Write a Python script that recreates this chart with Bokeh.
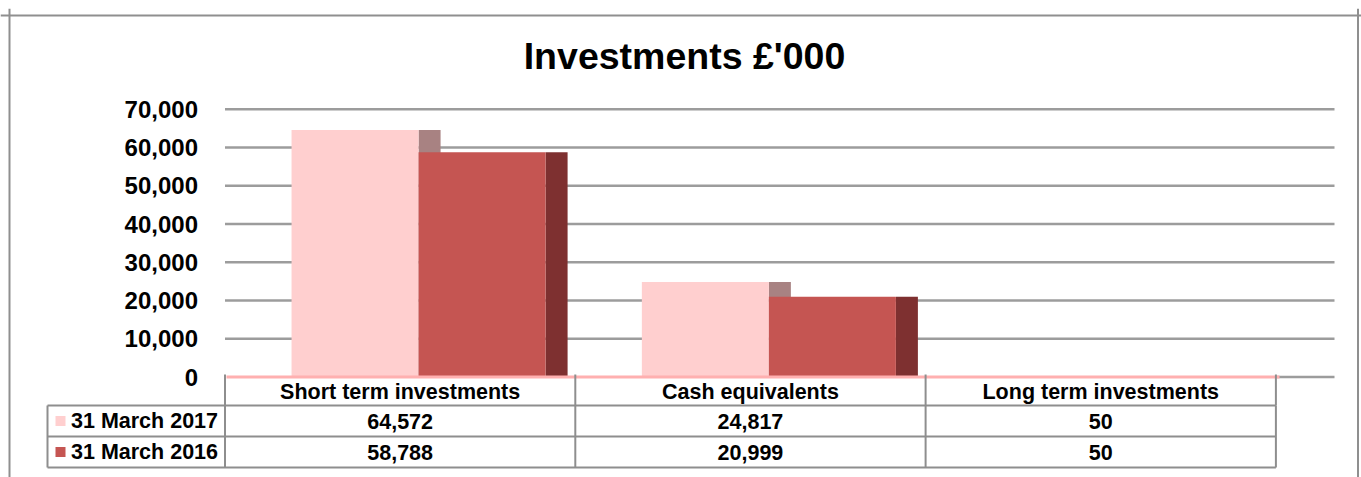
from bokeh.plotting import figure
from bokeh.models import Range1d, LinearAxis, FixedTicker, NumeralTickFormatter, Span
from bokeh.core.properties import value
from bokeh.embed import file_html
from bokeh.resources import INLINE

# ---- data ----
categories = ["Short term investments", "Cash equivalents", "Long term investments"]
series_names = ["31 March 2017", "31 March 2016"]
values_2017 = [64572, 24817, 50]
values_2016 = [58788, 20999, 50]
y_ticks = [0, 10000, 20000, 30000, 40000, 50000, 60000, 70000]
title_text = "Investments £'000"

# ---- styles ----
FONT = value("Liberation Sans")
C17, C17_SIDE = "#FFCFCF", "#A88282"
C16, C16_SIDE = "#C55552", "#7E3030"
GRID_C = "#9c9c9c"
TABLE_C = "#8e8e8e"
FLOOR_C = "#FFB0B0"

# ---- layout (picture pixels -> data coordinates) ----
W, H = 1361, 477
PAGE_X0, PAGE_Y0 = 0, 0
FRAME_TOP = 8
CAT_X0, CAT_W = 224.5, 350.3
ZERO_Y, Y_PER_PX = 376.5, 70000 / 267.7


def xp(px):
    return (px - CAT_X0) / CAT_W


def yp(py):
    return (ZERO_Y - py) * Y_PER_PX


p = figure(width=W, height=H,
           x_range=Range1d(xp(PAGE_X0), xp(PAGE_X0 + W)),
           y_range=Range1d(yp(PAGE_Y0 + H), yp(FRAME_TOP)),
           output_backend="svg", toolbar_location=None,
           x_axis_location=None, y_axis_location=None,
           min_border_left=0, min_border_right=0,
           min_border_top=FRAME_TOP - PAGE_Y0, min_border_bottom=0)
p.grid.visible = False
p.outline_line_color = None
p.background_fill_color = "white"
p.border_fill_color = "white"

# outer chart border
for loc, dim in [(xp(9), "height"), (xp(1357.5), "height"), (yp(15), "width")]:
    p.add_layout(Span(location=loc, dimension=dim, line_color="#8f8f8f", line_width=2))

n = len(categories)
idx = list(range(n))

# gridlines (back wall)
grid_end = xp(1334)
gt = y_ticks[1:]
p.segment(x0=[0] * len(gt), x1=[grid_end] * len(gt), y0=gt, y1=gt,
          line_color=GRID_C, line_width=2.5)

# bars with 3-D side faces
OFF, BW, SIDE = 0.19, 0.3626, 0.0628
x17 = [i + OFF + BW / 2 for i in idx]
x16 = [i + OFF + BW * 1.5 for i in idx]
s17 = [i + OFF + BW + SIDE / 2 for i in idx]
s16 = [i + OFF + 2 * BW + SIDE / 2 for i in idx]
p.vbar(x=s17, top=values_2017, bottom=0, width=SIDE, fill_color=C17_SIDE, line_color=None)
p.vbar(x=x17, top=values_2017, bottom=0, width=BW, fill_color=C17, line_color=None)
p.vbar(x=s16, top=values_2016, bottom=0, width=SIDE, fill_color=C16_SIDE, line_color=None)
p.vbar(x=x16, top=values_2016, bottom=0, width=BW, fill_color=C16, line_color=None)

# floor line
p.segment(x0=[xp(1276)], x1=[grid_end], y0=[0], y1=[0], line_color=GRID_C, line_width=2.5)
p.segment(x0=[xp(226)], x1=[xp(1279)], y0=[0], y1=[0], line_color=FLOOR_C, line_width=3)

# y axis
yaxis = LinearAxis(fixed_location=0, ticker=FixedTicker(ticks=y_ticks),
                   formatter=NumeralTickFormatter(format="0,0"),
                   axis_line_color=None, major_tick_line_color=None,
                   minor_tick_line_color=None, major_label_standoff=21,
                   major_label_text_font="Liberation Sans",
                   major_label_text_font_style="bold",
                   major_label_text_font_size="24px",
                   major_label_text_color="black")
p.add_layout(yaxis, "left")

# data table
r_top, r_mid, r_bot = yp(405), yp(436), yp(467)
h_top = yp(374)
tl = xp(47)
# header column separators
p.segment(x0=[float(i) for i in range(n + 1)], x1=[float(i) for i in range(n + 1)],
          y0=[h_top] * (n + 1), y1=[r_top] * (n + 1), line_color=TABLE_C, line_width=2)
# row lines
for yy in (r_top, r_mid, r_bot):
    p.segment(x0=[tl], x1=[float(n)], y0=[yy], y1=[yy], line_color=TABLE_C, line_width=2)
# column lines
vx = [tl] + [float(i) for i in range(n + 1)]
p.segment(x0=vx, x1=vx, y0=[r_top] * len(vx), y1=[r_bot] * len(vx), line_color=TABLE_C, line_width=2)

TXT = dict(text_font=FONT, text_font_style="bold", text_font_size="21.5px",
           text_color="black", text_baseline="middle")
p.text(x=[i + 0.5 for i in idx], y=[yp(391.5)] * n, text=categories, text_align="center", **TXT)

row_y = [(r_top + r_mid) / 2, (r_mid + r_bot) / 2]
p.scatter(x=[xp(60)] * 2, y=row_y, marker="square", size=10,
          fill_color=[C17, C16], line_color=None)
p.text(x=[xp(70.5)] * 2, y=row_y, text=series_names, text_align="left", **TXT)
for vals, yy in ((values_2017, row_y[0]), (values_2016, row_y[1])):
    p.text(x=[i + 0.5 for i in idx], y=[yy] * n, text=[f"{v:,}" for v in vals],
           text_align="center", **TXT)

# title
p.text(x=[xp(684)], y=[yp(55)], text=[title_text], text_align="center", text_baseline="middle",
       text_font=FONT, text_font_style="bold", text_font_size="37.5px", text_color="black")

open("out.html", "w").write(file_html(p, INLINE))
